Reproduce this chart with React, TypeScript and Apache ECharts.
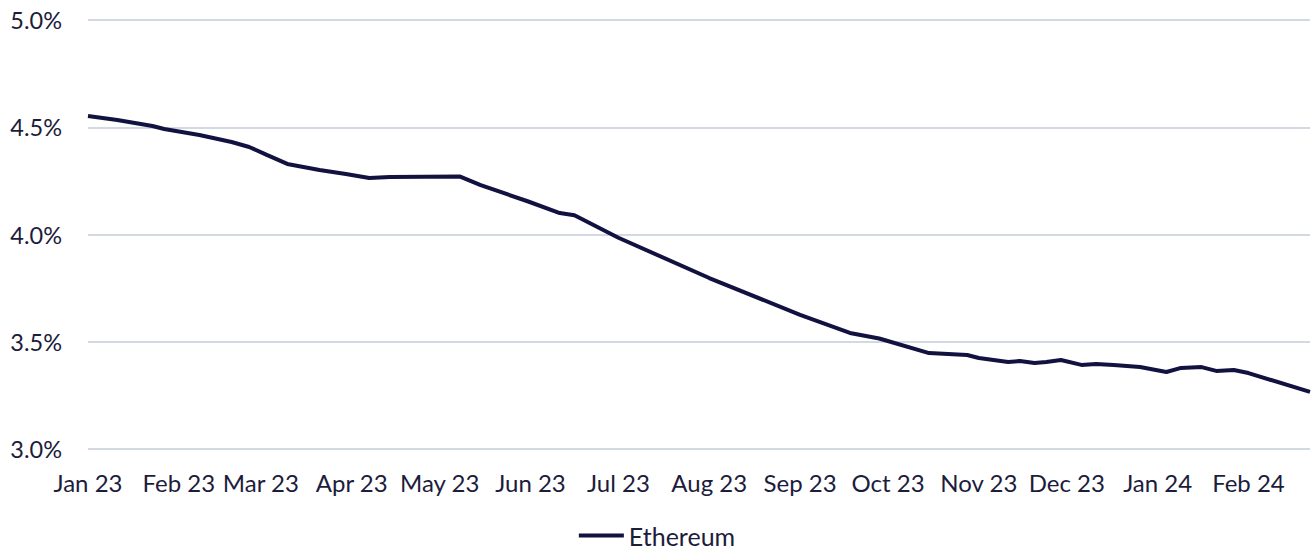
import React, { useEffect, useRef } from "react";
import * as echarts from "echarts";

const dates = [
  "2023-01-01", "2023-01-11", "2023-01-23", "2023-01-27", "2023-02-08", "2023-02-19",
  "2023-02-25", "2023-03-03", "2023-03-10", "2023-03-21", "2023-03-30", "2023-04-07",
  "2023-04-14", "2023-05-08", "2023-05-15", "2023-05-31", "2023-06-11", "2023-06-16",
  "2023-07-01", "2023-08-01", "2023-09-01", "2023-09-18", "2023-09-28", "2023-10-15",
  "2023-10-28", "2023-11-01", "2023-11-11", "2023-11-15", "2023-11-20", "2023-11-24",
  "2023-11-29", "2023-12-06", "2023-12-11", "2023-12-17", "2023-12-26", "2024-01-04",
  "2024-01-09", "2024-01-16", "2024-01-21", "2024-01-27", "2024-02-01", "2024-02-22",
];
const ethereum = [
  4.552, 4.534, 4.506, 4.492, 4.464, 4.431,
  4.408, 4.371, 4.329, 4.301, 4.282, 4.263,
  4.268, 4.27, 4.23, 4.155, 4.10, 4.09,
  3.985, 3.797, 3.625, 3.541, 3.515, 3.447,
  3.438, 3.424, 3.406, 3.41, 3.401, 3.406,
  3.415, 3.392, 3.396, 3.392, 3.382, 3.359,
  3.378, 3.382, 3.364, 3.368, 3.354, 3.266,
];
const monthNames = ["Jan", "Feb", "Mar", "Apr", "May", "Jun", "Jul", "Aug", "Sep", "Oct", "Nov", "Dec"];
const xMin = "2023-01-01";
const xMax = "2024-02-22";
const yMin = 3.0;
const yMax = 5.0;
const yStep = 0.5;

export default function App() {
  const ref = useRef<HTMLDivElement>(null);
  useEffect(() => {
    document.body.style.margin = "0";
    const chart = echarts.init(ref.current!, null, { renderer: "svg" });
    const textColor = "#1c1c3c";
    const font = "Lato";
    chart.setOption({
      animation: false,
      grid: { left: 88, right: 4, top: 20, bottom: 102, containLabel: false },
      xAxis: {
        type: "time",
        min: xMin,
        max: xMax,
        splitNumber: 14,
        minInterval: 28 * 86400000,
        maxInterval: 31 * 86400000,
        axisLine: { show: false },
        axisTick: { show: false },
        splitLine: { show: false },
        axisLabel: {
          color: textColor,
          fontFamily: font,
          fontSize: 24,
          margin: 21,
          hideOverlap: false,
          showMaxLabel: false,
          formatter: (v: number) => {
            const d = new Date(v);
            if (d.getDate() !== 1) return "";
            return monthNames[d.getMonth()] + " " + String(d.getFullYear()).slice(2);
          },
        },
      },
      yAxis: {
        type: "value",
        min: yMin,
        max: yMax,
        interval: yStep,
        axisLine: { show: false },
        axisTick: { show: false },
        splitLine: { lineStyle: { color: "#c5cdd8", width: 1.5 } },
        axisLabel: {
          color: textColor,
          fontFamily: font,
          fontSize: 23.5,
          margin: 26,
          formatter: (v: number) => v.toFixed(1) + "%",
        },
      },
      legend: {
        top: 518,
        left: "center",
        icon: "rect",
        itemWidth: 45,
        itemHeight: 4,
        itemGap: 4,
        textStyle: { color: textColor, fontFamily: font, fontSize: 25, padding: [0, 0, 0, 0] },
        data: ["Ethereum"],
      },
      series: [
        {
          name: "Ethereum",
          type: "line",
          showSymbol: false,
          data: dates.map((d, i) => [d, ethereum[i]]),
          lineStyle: { color: "#111240", width: 4 },
          itemStyle: { color: "#111240" },
        },
      ],
    });
    return () => chart.dispose();
  }, []);
  return <div ref={ref} style={{ width: 1314, height: 551 }} />;
}
